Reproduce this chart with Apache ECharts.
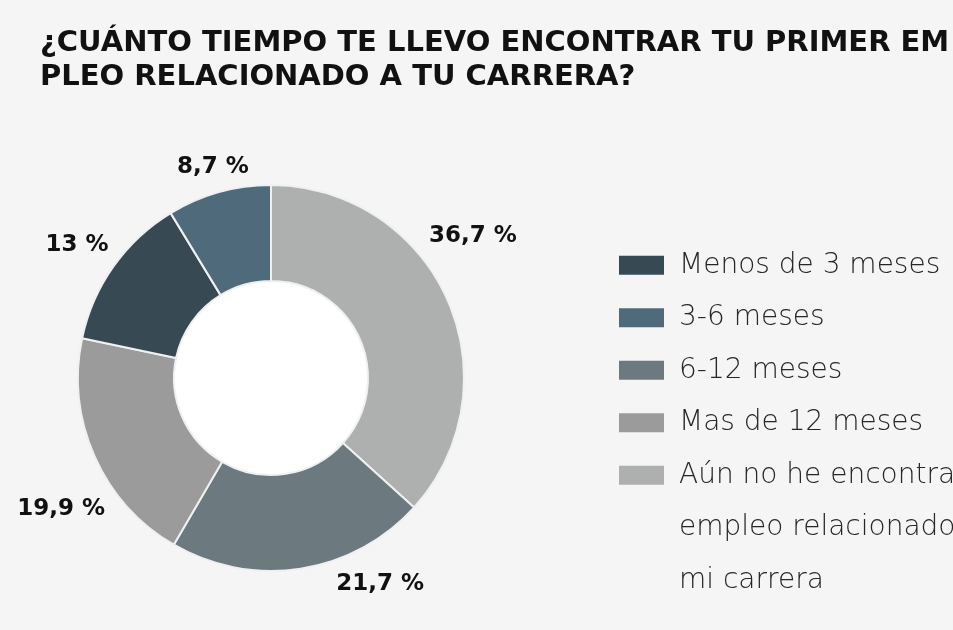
<!DOCTYPE html>
<html>
<head>
<meta charset="utf-8">
<script src="https://cdn.jsdelivr.net/npm/echarts@6/dist/echarts.min.js"></script>
<style>
  html, body { margin: 0; padding: 0; background: #f5f5f5; }
  #chart { width: 953px; height: 630px; }
</style>
</head>
<body>
<div id="chart"></div>
<script>
// Data (pie drawn clockwise from the top in this order)
const categories = [
  'Aún no he encontrado\nempleo relacionado a\nmi carrera',
  '6-12 meses',
  'Mas de 12 meses',
  'Menos de 3 meses',
  '3-6 meses'
];
const values = [36.7, 21.7, 19.9, 13, 8.7];
const legendOrderMain = ['Menos de 3 meses', '3-6 meses', '6-12 meses', 'Mas de 12 meses'];
const legendOrderLast = ['Aún no he encontrado\nempleo relacionado a\nmi carrera'];
const titleText = '¿CUÁNTO TIEMPO TE LLEVO ENCONTRAR TU PRIMER EM\nPLEO RELACIONADO A TU CARRERA?';

// Styles
const colorMap = {
  'Menos de 3 meses': '#374a53',
  '3-6 meses': '#4f6b7b',
  '6-12 meses': '#6c7a80',
  'Mas de 12 meses': '#9b9b9b',
  'Aún no he encontrado\nempleo relacionado a\nmi carrera': '#adb0af'
};
const labelNudge = [[-2, -51], [75, -14], [-6, 41], [-12, -4], [2, 4]];

const chart = echarts.init(document.getElementById('chart'), null, { renderer: 'canvas' });

const LH = 52.5;
const legendText = {
  fontFamily: 'DejaVu Sans',
  fontWeight: 300,
  fontSize: 28,
  color: '#262626',
  lineHeight: LH,
  rich: {
    t: {
      fontFamily: 'DejaVu Sans',
      fontWeight: 300,
      fontSize: 28,
      color: '#262626',
      lineHeight: LH,
      padding: [0, 0, 0, 10]
    }
  }
};
const wrapLines = name => name.split('\n').map(l => '{t|' + l + '}').join('\n');

const legendCommon = {
  orient: 'vertical',
  left: 619,
  padding: 0,
  itemGap: 0,
  itemWidth: 45,
  itemHeight: 19,
  icon: 'rect',
  itemStyle: { borderWidth: 0 },
  textStyle: legendText,
  selectedMode: false
};

chart.setOption({
  backgroundColor: '#f5f5f5',
  animation: false,
  title: {
    text: titleText,
    left: 35,
    top: 21,
    textStyle: {
      fontFamily: 'DejaVu Sans',
      fontWeight: 'bold',
      fontSize: 29,
      lineHeight: 34,
      color: '#111111'
    }
  },
  legend: [
    Object.assign({}, legendCommon, {
      data: legendOrderMain,
      top: 239,
      formatter: name => wrapLines(name)
    }),
    Object.assign({}, legendCommon, {
      data: legendOrderLast,
      top: 344,
      formatter: name => '\n\n' + wrapLines(name)
    })
  ],
  series: [
    {
      type: 'pie',
      center: [271, 378],
      radius: [0, 97],
      silent: true,
      label: { show: false },
      labelLine: { show: false },
      itemStyle: { color: '#ffffff' },
      data: [{ value: 1, name: 'hueco' }]
    },
    {
      type: 'pie',
      center: [271, 378],
      radius: [97, 193],
      startAngle: 90,
      clockwise: true,
      avoidLabelOverlap: false,
      itemStyle: { borderColor: '#eef0f1', borderWidth: 2 },
      label: {
        show: true,
        position: 'outside',
        distanceToLabelLine: 0,
        fontFamily: 'DejaVu Sans',
        fontWeight: 'bold',
        fontSize: 23,
        color: '#111111',
        formatter: p => String(p.value).replace('.', ',') + ' %'
      },
      labelLine: { show: false, length: 30, length2: 0 },
      labelLayout: params => ({
        align: 'center',
        dx: labelNudge[params.dataIndex][0],
        dy: labelNudge[params.dataIndex][1]
      }),
      data: categories.map((c, i) => ({
        name: c,
        value: values[i],
        itemStyle: { color: colorMap[c] }
      }))
    }
  ]
});
</script>
</body>
</html>
